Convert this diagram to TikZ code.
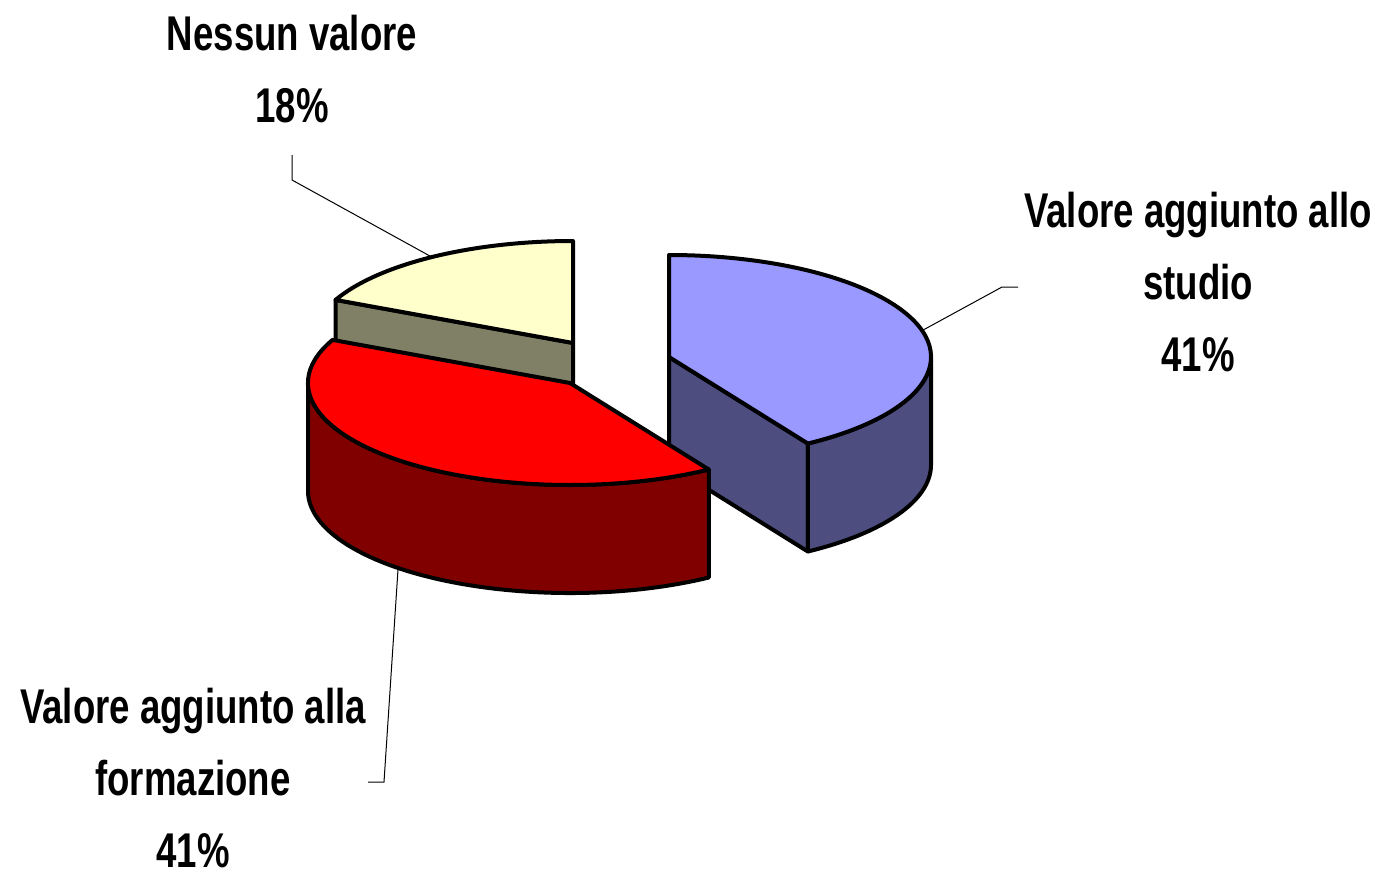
\documentclass[tikz,border=0pt]{standalone}
\usepackage{fontspec}
\usepackage{tikz}
\usetikzlibrary{calc}
\newfontfamily\lblfont{Liberation Sans}[FakeStretch=0.75]
\definecolor{nessunTop}{RGB}{255,255,204}
\definecolor{nessunSide}{RGB}{128,128,102}
\definecolor{studioTop}{RGB}{153,153,255}
\definecolor{studioSide}{RGB}{77,77,128}
\definecolor{formTop}{RGB}{255,0,0}
\definecolor{formSide}{RGB}{128,0,0}
\tikzset{
  face/.style={draw=black, line width=2pt, line join=round},
  leader/.style={draw=black, line width=0.5pt},
  pielabel/.style={anchor=north, inner sep=0pt, align=center,
    font=\lblfont\bfseries\fontsize{24.4}{36}\selectfont},
  rim/.style={x radius=262, y radius=102}
}

\begin{document}
\begin{tikzpicture}[x=0.5pt,y=0.5pt]
  \useasboundingbox (0,0) rectangle (1383,-873);
  \coordinate (nessunC) at (573,-343);
  \coordinate (studioC) at (669,-357);
  \coordinate (formC) at (570,-383);

  % Nessun valore
  \filldraw[face, fill=nessunSide] ($(nessunC)+(155:262 and 102)$) -- (nessunC)
    -- ++(0,-108) -- ($(nessunC)+(155:262 and 102)+(0,-108)$) -- cycle;
  \filldraw[face, fill=nessunTop] (nessunC) -- ++(0,102)
    arc[start angle=90, end angle=155, rim] -- cycle;

  % Valore aggiunto allo studio
  \filldraw[face, fill=studioSide] (studioC) -- ($(studioC)+(-58:262 and 102)$)
    -- ++(0,-108) -- ($(studioC)+(0,-108)$) -- cycle;
  \filldraw[face, fill=studioSide] ($(studioC)+(-58:262 and 102)$)
    arc[start angle=-58, end angle=0, rim] -- ++(0,-108)
    arc[start angle=0, end angle=-58, rim] -- cycle;
  \filldraw[face, fill=studioTop] (studioC) -- ++(-58:262 and 102)
    arc[start angle=-58, end angle=90, rim] -- cycle;

  % Valore aggiunto alla formazione
  \filldraw[face, fill=formSide] ($(formC)+(180:262 and 102)$)
    arc[start angle=180, end angle=302, rim] -- ++(0,-108)
    arc[start angle=302, end angle=180, rim] -- cycle;
  \filldraw[face, fill=formTop] (formC) -- ++(155:262 and 102)
    arc[start angle=155, end angle=302, rim] -- cycle;

  % labels
  \node[pielabel] (nessunLbl) at (292,-15) {Nessun valore\\18\%};
  \node[pielabel] (studioLbl) at (1198,-192) {Valore aggiunto allo\\studio\\41\%};
  \node[pielabel] (formLbl) at (193,-688) {Valore aggiunto alla\\formazione\\41\%};

  % leaders
  \coordinate (nessunTip) at (292,-155);
  \coordinate (nessunBend) at (292,-180);
  \coordinate (nessunRim) at ($(nessunC)+(122.6:262 and 102)$);
  \draw[leader] (nessunTip) -- (nessunBend) -- (nessunRim);
  \coordinate (studioTip) at (1018,-287);
  \coordinate (studioBend) at (1002,-287);
  \coordinate (studioRim) at ($(studioC)+(15:262 and 102)$);
  \draw[leader] (studioTip) -- (studioBend) -- (studioRim);
  \coordinate (formTip) at (368,-782);
  \coordinate (formBend) at (384,-782);
  \coordinate (formRim) at ($(formC)+(229:262 and 102)+(0,-108)$);
  \draw[leader] (formTip) -- (formBend) -- (formRim);
\end{tikzpicture}
\end{document}
